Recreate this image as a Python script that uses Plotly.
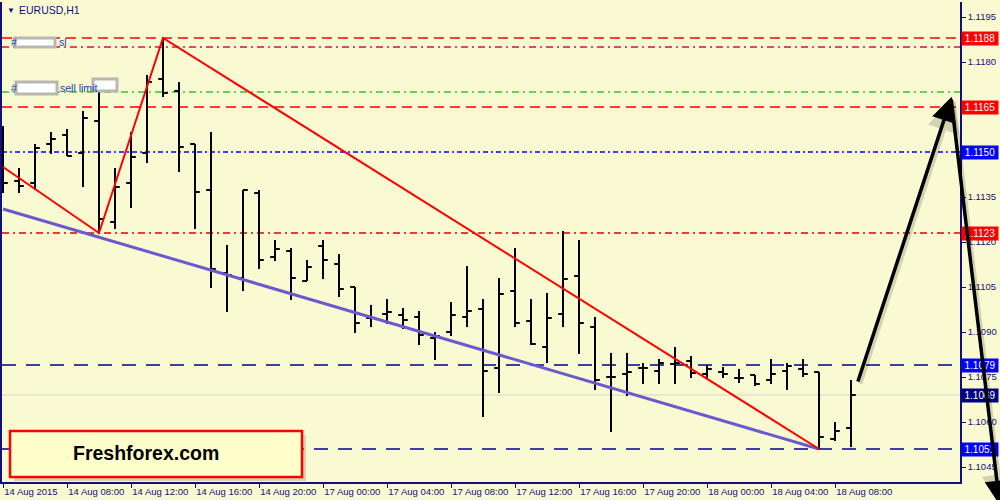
import plotly.graph_objects as go

# ---------------- data ----------------
bar_times = (["14 Aug %02d:00" % h for h in range(4, 24)]
             + ["17 Aug %02d:00" % h for h in range(0, 24)]
             + ["18 Aug %02d:00" % h for h in range(0, 10)])

opens = [1.11473, 1.11403, 1.11397, 1.11527, 1.11557, 1.11497, 1.11603, 1.11267, 1.11397, 1.11497,
         1.11743, 1.11703, 1.11527, 1.11373, 1.11097, 1.11080, 1.11363, 1.11150, 1.11170, 1.11070,
         1.11187, 1.11127, 1.11050, 1.10947, 1.10960, 1.10957, 1.10950, 1.10880, 1.10900, 1.10950,
         1.10977, 1.10780, 1.11037, 1.10937, 1.10850, 1.10960, 1.11087, 1.10917, 1.10750, 1.10760,
         1.10780, 1.10770, 1.10793, 1.10803, 1.10760, 1.10767, 1.10747, 1.10757, 1.10740, 1.10770,
         1.10777, 1.10767, 1.10543, 1.10580]
highs = [1.11587, 1.11447, 1.11527, 1.11567, 1.11577, 1.11637, 1.11703, 1.11447, 1.11567, 1.11757,
         1.11880, 1.11733, 1.11527, 1.11567, 1.11190, 1.11373, 1.11373, 1.11207, 1.11180, 1.11140,
         1.11207, 1.11160, 1.11050, 1.10990, 1.11010, 1.10980, 1.10970, 1.10900, 1.11000, 1.11120,
         1.11010, 1.11080, 1.11180, 1.11010, 1.11030, 1.11237, 1.11207, 1.10950, 1.10830, 1.10830,
         1.10797, 1.10810, 1.10850, 1.10820, 1.10790, 1.10783, 1.10777, 1.10757, 1.10810, 1.10797,
         1.10810, 1.10767, 1.10600, 1.10740]
lows = [1.11363, 1.11363, 1.11373, 1.11493, 1.11487, 1.11383, 1.11227, 1.11243, 1.11313, 1.11463,
        1.11683, 1.11433, 1.11243, 1.11047, 1.10967, 1.11037, 1.11110, 1.11137, 1.11007, 1.11070,
        1.11077, 1.11017, 1.10897, 1.10917, 1.10927, 1.10910, 1.10857, 1.10807, 1.10887, 1.10917,
        1.10617, 1.10697, 1.10917, 1.10857, 1.10797, 1.10917, 1.10827, 1.10707, 1.10567, 1.10687,
        1.10727, 1.10727, 1.10727, 1.10747, 1.10747, 1.10747, 1.10730, 1.10720, 1.10727, 1.10707,
        1.10750, 1.10510, 1.10537, 1.10517]
closes = [1.11397, 1.11387, 1.11513, 1.11543, 1.11487, 1.11613, 1.11277, 1.11383, 1.11483, 1.11733,
          1.11697, 1.11517, 1.11367, 1.11110, 1.11090, 1.11373, 1.11140, 1.11177, 1.11080, 1.11117,
          1.11140, 1.11043, 1.10930, 1.10947, 1.10967, 1.10940, 1.10890, 1.10887, 1.10957, 1.10970,
          1.10770, 1.11027, 1.10930, 1.10860, 1.10947, 1.11077, 1.10930, 1.10740, 1.10750, 1.10767,
          1.10780, 1.10797, 1.10797, 1.10763, 1.10777, 1.10760, 1.10747, 1.10727, 1.10760, 1.10787,
          1.10760, 1.10550, 1.10570, 1.10690]

x_tick_index = [0, 4, 8, 12, 16, 20, 24, 28, 32, 36, 40, 44, 48, 52]
x_tick_text = ["14 Aug 2015", "14 Aug 08:00", "14 Aug 12:00", "14 Aug 16:00", "14 Aug 20:00",
               "17 Aug 00:00", "17 Aug 04:00", "17 Aug 08:00", "17 Aug 12:00", "17 Aug 16:00",
               "17 Aug 20:00", "18 Aug 00:00", "18 Aug 04:00", "18 Aug 08:00"]
y_tick_values = [1.1195, 1.1180, 1.1165, 1.1150, 1.1135, 1.1120, 1.1105, 1.1090, 1.1075, 1.1060, 1.1045]

level_prices = [1.1188, 1.1185, 1.1170, 1.1165, 1.1150, 1.1123, 1.1079, 1.1069, 1.1051]
level_colors = ["#FF0000", "#E0103C", "#32C832", "#FF0000", "#0000FF", "#E00000", "#000090", "#D4D4C8", "#000090"]
level_dashes = ["10px,6px", "7px,4px,2px,4px", "7px,4px,2px,4px", "10px,6px", "5px,3px,2px,3px",
                "7px,4px,2px,4px", "14px,10px", "solid", "14px,10px"]

price_tags = [1.1188, 1.1165, 1.1150, 1.1123, 1.1079, 1.1069, 1.1051]
price_tag_colors = ["#FF0000", "#FF0000", "#0000FF", "#FF0000", "#0000FF", "#000080", "#0000FF"]

red_line_x = [0, 6, 10, 51]
red_line_y = [1.1145, 1.1123, 1.1188, 1.1051]
purple_line_x = [0, 51]
purple_line_y = [1.1131, 1.1051]

# arrows: (tail_x, tail_y, head_x, head_y) in bar index / price
arrow_tail_x = [53.4, 59.25]
arrow_tail_y = [1.1073, 1.11680]
arrow_head_x = [59.29, 62.3]
arrow_head_y = [1.11684, 1.10323]

NAVY = "#10107A"
FONT = "Liberation Sans, Arial, sans-serif"
BG = "#FAFAD2"

idx = list(range(len(bar_times)))

fig = go.Figure()
fig.add_trace(go.Scatter(x=purple_line_x, y=purple_line_y, mode="lines",
                         line=dict(color="#6A5ACD", width=3), hoverinfo="skip"))
fig.add_trace(go.Scatter(x=red_line_x, y=red_line_y, mode="lines",
                         line=dict(color="#FF0000", width=2), hoverinfo="skip"))
fig.add_trace(go.Ohlc(x=idx, open=opens, high=highs, low=lows, close=closes,
                      text=bar_times, tickwidth=0.3,
                      increasing=dict(line=dict(color="black", width=2)),
                      decreasing=dict(line=dict(color="black", width=2))))

shapes = []
for p, c, d in zip(level_prices, level_colors, level_dashes):
    shapes.append(dict(type="line", xref="paper", yref="y", x0=0, x1=1, y0=p, y1=p,
                       line=dict(color=c, width=1 if d == "solid" else 1.4, dash=d), layer="below"))

# blurred label placeholders at top-left
for (bx0, bx1, by0, by1) in [(15, 55, 38, 47), (16, 57, 82, 94), (93, 117, 79, 91)]:
    shapes.append(dict(type="rect", xref="paper", yref="paper",
                       x0=(bx0 - 2) / 958, x1=(bx1 - 2) / 958,
                       y0=(482 - by1) / 480, y1=(482 - by0) / 480,
                       fillcolor="white", line=dict(color="#B8B8B0", width=3)))

# logo box with shadow
shapes.append(dict(type="rect", xref="paper", yref="paper",
                   x0=(14 - 2) / 958, x1=(306 - 2) / 958, y0=(482 - 481) / 480, y1=(482 - 435) / 480,
                   fillcolor="rgba(120,120,100,0.3)", line=dict(width=0)))
shapes.append(dict(type="rect", xref="paper", yref="paper",
                   x0=(10 - 2) / 958, x1=(302 - 2) / 958, y0=(482 - 477) / 480, y1=(482 - 431) / 480,
                   fillcolor="#FFFFCC", line=dict(color="#FF0000", width=2.5)))

annotations = []
# price tags on right axis
for p, c in zip(price_tags, price_tag_colors):
    annotations.append(dict(xref="paper", yref="y", x=1, y=p, xanchor="left", yanchor="middle",
                            xshift=1, text="%.4f" % p, showarrow=False, bgcolor=c,
                            font=dict(color="white", size=10, family=FONT), borderpad=1,
                            width=34, align="center"))

# symbol / order texts
annotations.append(dict(xref="paper", yref="paper", x=(5 - 2) / 958, y=(482 - 10) / 480,
                        text="▼", showarrow=False, xanchor="left", yanchor="middle",
                        font=dict(size=8, color=NAVY, family=FONT)))
annotations.append(dict(xref="paper", yref="paper", x=(17 - 2) / 958, y=(482 - 10) / 480,
                        text="EURUSD,H1", showarrow=False, xanchor="left", yanchor="middle",
                        font=dict(size=10.5, color=NAVY, family=FONT)))
annotations.append(dict(xref="paper", yref="paper", x=(9 - 2) / 958, y=(482 - 42) / 480,
                        text="#", showarrow=False, xanchor="left", yanchor="middle",
                        font=dict(size=10.5, color="#2040B0", family=FONT)))
annotations.append(dict(xref="paper", yref="paper", x=(57 - 2) / 958, y=(482 - 42) / 480,
                        text="sl", showarrow=False, xanchor="left", yanchor="middle",
                        font=dict(size=10.5, color="#2040B0", family=FONT)))
annotations.append(dict(xref="paper", yref="paper", x=(9 - 2) / 958, y=(482 - 88) / 480,
                        text="#", showarrow=False, xanchor="left", yanchor="middle",
                        font=dict(size=10.5, color="#2040B0", family=FONT)))
annotations.append(dict(xref="paper", yref="paper", x=(58 - 2) / 958, y=(482 - 88) / 480,
                        text="sell limit", showarrow=False, xanchor="left", yanchor="middle",
                        font=dict(size=10.5, color="#2040B0", family=FONT)))
annotations.append(dict(xref="paper", yref="paper", x=(146 - 2) / 958, y=(482 - 453) / 480,
                        text="<b>Freshforex.com</b>", showarrow=False, xanchor="center", yanchor="middle",
                        font=dict(size=19.5, color="black", family=FONT)))

# arrows (shadow first, then black)
for tx, ty, hx, hy in zip(arrow_tail_x, arrow_tail_y, arrow_head_x, arrow_head_y):
    annotations.append(dict(xref="x", yref="y", axref="x", ayref="y", x=hx, y=hy, ax=tx, ay=ty,
                            xshift=2, yshift=-2, text="", showarrow=True, arrowhead=2, arrowsize=1.3,
                            arrowwidth=5, arrowcolor="rgba(0,0,0,0.15)", standoff=0, startstandoff=0))
for tx, ty, hx, hy in zip(arrow_tail_x, arrow_tail_y, arrow_head_x, arrow_head_y):
    annotations.append(dict(xref="x", yref="y", axref="x", ayref="y", x=hx, y=hy, ax=tx, ay=ty,
                            text="", showarrow=True, arrowhead=2, arrowsize=1.4,
                            arrowwidth=3.5, arrowcolor="black", standoff=0, startstandoff=0))

fig.update_layout(
    width=1000, height=500,
    margin=dict(l=2, r=40, t=2, b=18, autoexpand=False),
    paper_bgcolor=BG, plot_bgcolor=BG,
    showlegend=False,
    shapes=shapes, annotations=annotations,
    xaxis=dict(range=[-0.0625, 59.8125], showgrid=False, zeroline=False, automargin=False,
               tickmode="array", tickvals=x_tick_index, ticktext=x_tick_text, tickangle=0,
               ticks="outside", ticklen=4, tickcolor=NAVY, tickwidth=1,
               ticklabelposition="outside right",
               tickfont=dict(size=9.5, color=NAVY, family=FONT),
               showline=True, linecolor=NAVY, linewidth=1.5,
               rangeslider=dict(visible=False), fixedrange=True),
    yaxis=dict(range=[1.1040, 1.1200], side="right", showgrid=False, zeroline=False, automargin=False,
               tickmode="array", tickvals=y_tick_values, tickformat=".4f",
               ticks="outside", ticklen=4, tickcolor=NAVY, tickwidth=1,
               tickfont=dict(size=9.5, color=NAVY, family=FONT),
               showline=True, mirror=True, linecolor=NAVY, linewidth=1.5, fixedrange=True),
)

fig.write_html("out.html", config={"displayModeBar": False},
               post_script="document.body.style.margin='0';document.body.style.background='%s';" % BG)
